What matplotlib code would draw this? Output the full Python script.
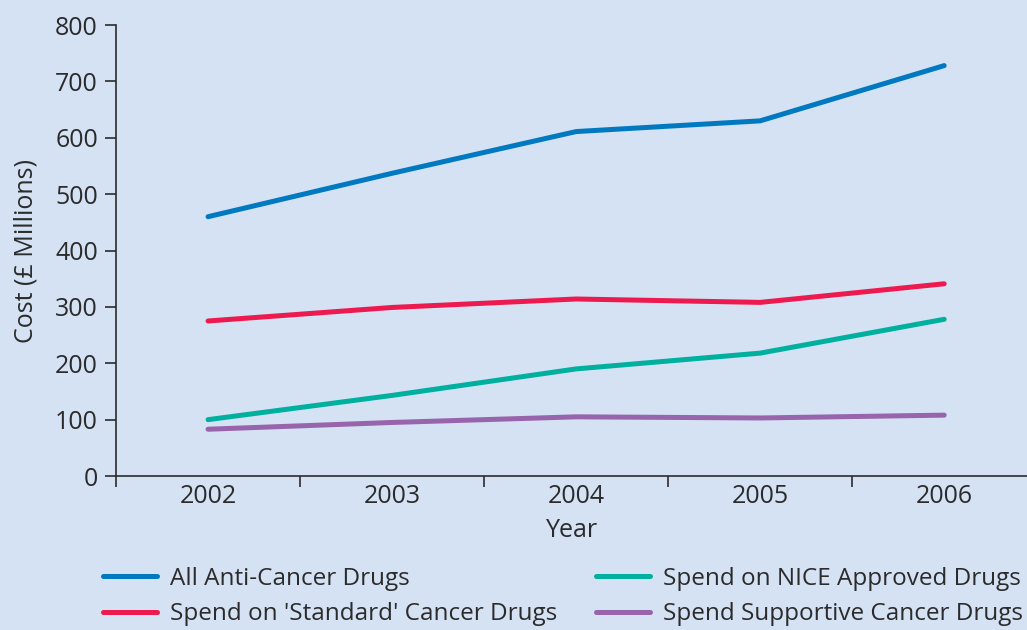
import matplotlib.pyplot as plt

years = [2002, 2003, 2004, 2005, 2006]
all_drugs = [460, 537, 611, 630, 728]
standard = [275, 299, 314, 308, 341]
nice = [100, 143, 190, 218, 278]
supportive = [83, 95, 105, 103, 108]

series = [
    ("All Anti-Cancer Drugs", all_drugs, "#0079c1"),
    ("Spend on 'Standard' Cancer Drugs", standard, "#ec1a4e"),
    ("Spend on NICE Approved Drugs", nice, "#00b09f"),
    ("Spend Supportive Cancer Drugs", supportive, "#9864ab"),
]

bg = "#d4e2f4"
txt = "#2b2b2b"
fs = 18
plt.rcParams['font.family'] = ['Open Sans', 'DejaVu Sans']

fig = plt.figure(figsize=(10.27, 6.3), dpi=100, facecolor=bg)
ax = fig.add_axes([0.113, 0.2444, 0.887, 0.7159], facecolor=bg)

handles = []
for name, vals, col in series:
    h, = ax.plot(years, vals, color=col, lw=3.6, solid_capstyle='round',
                 solid_joinstyle='round', label=name)
    handles.append(h)

ax.set_xlim(2001.5, 2006.45)
ax.set_ylim(0, 800)
ax.set_yticks(range(0, 801, 100))
ax.set_xticks(years)
ax.set_xticks([y - 0.5 for y in years], minor=True)

for s in ['top', 'right']:
    ax.spines[s].set_visible(False)
for s in ['left', 'bottom']:
    ax.spines[s].set_color(txt)
    ax.spines[s].set_linewidth(1.2)

ax.tick_params(axis='y', direction='out', length=8, width=1.2, color=txt,
               labelsize=fs, labelcolor=txt, pad=5)
ax.tick_params(axis='x', which='major', length=0, labelsize=fs,
               labelcolor=txt, pad=6)
ax.tick_params(axis='x', which='minor', direction='out', length=8, width=1.2,
               color=txt)

ax.set_xlabel("Year", fontsize=fs, color=txt, labelpad=6)
ax.set_ylabel("Cost (£ Millions)", fontsize=fs, color=txt, labelpad=12)

# legend: two columns under the plot
lfs = 17.5
fig.legend(handles, [h.get_label() for h in handles], ncol=2, frameon=False,
           loc='upper left', bbox_to_anchor=(103 / 1027, 1 - 567 / 630),
           borderpad=0, borderaxespad=0, fontsize=lfs,
           handlelength=2.22, handletextpad=0.53, columnspacing=1.6,
           labelspacing=0.46, labelcolor=txt)

fig.savefig("out.png", dpi=100, facecolor=bg)
